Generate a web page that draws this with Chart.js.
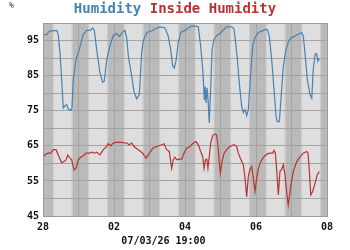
<!DOCTYPE html>
<html>
<head>
<meta charset="utf-8">
<script src="https://cdn.jsdelivr.net/npm/chart.js@4/dist/chart.umd.min.js"></script>
<style>
  html, body { margin: 0; padding: 0; background: #fff; }
</style>
</head>
<body>
<canvas id="chart" width="350" height="250"></canvas>
<script>
// hours since 28 Feb 00:00
const humidityHours = [0.2, 2.5, 4.3, 9.3, 10.3, 11.5, 12.6, 13.7, 14.9, 16.0, 17.1, 18.7, 19.6, 20.5, 22.3, 24.5,
  27.2, 29.5, 32.2, 33.6, 34.7, 36.3, 38.5, 40.4, 41.4, 43.1, 45.3, 47.5, 49.8, 51.6, 53.9, 55.4, 56.6, 57.7,
  60.0, 61.5, 63.3, 65.1, 66.7, 67.8, 70.1, 73.5, 75.7, 79.1, 82.5, 84.7, 86.3, 87.7, 88.8, 89.9, 91.5, 93.1,
  96.0, 98.2, 100.5, 103.4, 105.0, 106.6, 108.0, 109.1, 109.7, 110.2, 110.9, 111.6, 112.4, 113.4, 114.3, 115.6,
  117.4, 119.7, 121.9, 124.2, 127.6, 129.1, 130.5, 131.4, 132.7, 134.3, 135.4, 136.6, 137.7, 138.8, 140.4,
  141.8, 143.3, 145.6, 147.9, 150.1, 151.7, 153.0, 154.6, 156.2, 157.5, 158.4, 159.8, 161.0, 162.5, 164.3,
  165.8, 167.5, 169.7, 171.9, 173.8, 174.9, 176.0, 177.1, 178.7, 180.5, 181.7, 182.7, 183.9, 185.0, 185.7,
  186.4, 186.8];
const humidityValues = [96.7, 96.7, 97.7, 97.9, 96.7, 91.5, 83.9, 75.8, 76.4, 76.7, 75.5, 75.1, 75.8, 83.9, 89.6, 92.4,
  96.7, 97.9, 97.9, 98.6, 97.9, 92.4, 85.8, 83.1, 83.4, 89.6, 93.6, 96.4, 97.0, 96.2, 97.4, 97.9, 95.8, 90.5,
  84.8, 80.5, 78.4, 79.6, 91.5, 94.9, 97.3, 97.7, 98.3, 98.9, 98.6, 96.2, 92.4, 87.7, 87.2, 89.1, 94.5, 97.3,
  97.9, 98.6, 99.1, 99.1, 98.9, 93.4, 86.7, 78.1, 81.9, 77.2, 81.5, 78.1, 71.5, 81.9, 92.4, 95.3,
  96.4, 97.0, 98.0, 98.9, 98.9, 98.3, 93.4, 89.6, 82.9, 76.2, 74.5, 75.3, 73.6, 75.3, 85.8,
  93.4, 95.8, 97.3, 97.7, 98.1, 98.1, 96.2, 89.6, 81.0, 73.5, 71.9, 71.9, 79.1, 87.7, 92.4,
  94.5, 95.8, 96.1, 96.7, 97.0, 97.3, 96.2, 91.5, 83.9, 79.6, 78.6, 86.7, 91.0, 91.3, 89.1,
  89.8, 89.4];

const insideHours = [0.2, 2.0, 3.6, 5.2, 7.0, 8.8, 10.3, 12.6, 14.2, 15.5, 16.7, 18.3, 19.4, 21.0, 22.3, 23.9,
  25.5, 27.2, 29.1, 31.3, 32.9, 34.5, 36.3, 38.5, 40.8, 42.6, 44.1, 45.8, 47.1, 48.7, 52.1, 56.6, 58.3, 60.0,
  61.5, 64.4, 67.4, 69.6, 71.9, 74.2, 76.9, 80.3, 81.8, 83.6, 85.4, 87.0, 88.1, 89.2, 90.4, 92.1, 93.8, 95.3,
  97.1, 99.4, 101.6, 103.4, 105.0, 106.6, 108.0, 108.9, 109.8, 110.7, 111.5, 112.4, 113.4, 114.7, 116.3, 117.4,
  118.3, 119.2, 119.9, 120.8, 122.4, 124.2, 126.4, 129.1, 131.0, 132.0, 133.7, 135.4, 136.6, 137.7, 138.8,
  139.9, 141.1, 142.2, 143.3, 144.5, 145.6, 147.2, 149.4, 151.7, 153.5, 155.3, 156.2, 157.1, 158.0, 159.1,
  160.2, 161.3, 162.5, 163.6, 164.8, 165.8, 167.5, 169.2, 171.5, 173.8, 176.0, 178.3, 179.2, 180.0, 181.0,
  182.3, 183.9, 185.4, 186.8];
const insideValues = [61.8, 62.7, 62.9, 62.9, 63.9, 63.9, 62.4, 60.2, 60.5, 61.0, 62.4, 61.5, 61.0, 58.1, 58.6, 61.0,
  61.8, 62.1, 62.9, 62.9, 63.2, 62.9, 63.2, 62.4, 63.9, 64.6, 65.6, 65.0, 65.6, 66.0, 66.0, 65.8, 65.3, 65.8,
  64.8, 63.9, 62.9, 61.5, 62.9, 64.3, 64.8, 65.3, 65.6, 63.9, 63.4, 58.6, 61.0, 61.8, 61.0, 61.2, 61.2, 62.9,
  64.3, 64.8, 65.8, 66.2, 65.3, 63.4, 61.9, 58.6, 61.0, 61.2, 58.6, 61.9, 65.8, 67.9, 68.4, 68.1,
  64.8, 60.1, 57.2, 60.1, 62.9, 64.0, 64.8, 65.3, 64.8, 62.9, 61.2, 59.6, 55.8, 50.5, 56.2,
  58.3, 59.1, 55.8, 52.0, 55.8, 58.6, 60.5, 61.9, 62.7, 62.9, 62.9, 63.7, 62.9, 58.1, 51.0,
  57.7, 58.3, 59.6, 56.7, 51.5, 48.1, 53.4, 57.7, 60.5, 61.9, 62.9, 63.4, 62.9, 58.1, 51.0,
  52.0, 54.3, 56.7, 57.7];

const seriesNames = ['Humidity', 'Inside Humidity'];
const xTickLabels = ['28', '02', '04', '06', '08'];
const yTickLabels = ['45', '55', '65', '75', '85', '95'];
const unitLabel = '%';
const timeLabel = '07/03/26 19:00';

// day/night shading, hours of the day
const duskStart = 19.3, nightStart = 20.0, nightEnd = 6.7, dawnEnd = 7.2;

const blue = '#4682b4';
const red = '#b83232';
const mono = '"DejaVu Sans Mono", monospace';

const toPoints = (xs, ys) => xs.map((x, i) => ({ x: x, y: ys[i] }));

const backdropPlugin = {
    id: 'backdrop',
    beforeDraw(chart) {
        const { ctx, chartArea: a, scales: { x } } = chart;
        ctx.save();
        ctx.fillStyle = '#dedede';
        ctx.fillRect(a.left, a.top, a.right - a.left, a.bottom - a.top);
        const band = (h0, h1, color) => {
            const p0 = Math.max(x.getPixelForValue(h0), a.left);
            const p1 = Math.min(x.getPixelForValue(h1), a.right);
            if (p1 <= p0) return;
            ctx.fillStyle = color;
            ctx.fillRect(p0, a.top, p1 - p0, a.bottom - a.top);
        };
        for (let d = -1; d <= 8; d++) {
            const base = d * 24;
            band(base + duskStart, base + nightStart, '#cbcbcb');
            band(base + nightStart, base + 24 + nightEnd, '#bababa');
            band(base + 24 + nightEnd, base + 24 + dawnEnd, '#cbcbcb');
        }
        ctx.restore();
    },
    afterDraw(chart) {
        const { ctx, chartArea: a } = chart;
        ctx.save();
        ctx.strokeStyle = '#9a9a9a';
        ctx.lineWidth = 1;
        ctx.strokeRect(Math.round(a.left) + 0.5, Math.round(a.top) + 0.5,
            Math.round(a.right - a.left), Math.round(a.bottom - a.top));

        // two-colour heading
        ctx.font = 'bold 14px ' + mono;
        ctx.textBaseline = 'middle';
        const first = seriesNames[0] + ' ';
        const w1 = ctx.measureText(first).width;
        const w2 = ctx.measureText(seriesNames[1]).width;
        let tx = chart.width / 2 - (w1 + w2) / 2;
        ctx.fillStyle = blue;
        ctx.fillText(first, tx, 9);
        ctx.fillStyle = red;
        ctx.fillText(seriesNames[1], tx + w1, 9);

        ctx.font = '8px ' + mono;
        ctx.fillStyle = '#333';
        ctx.fillText(unitLabel, 9, 6);
        ctx.restore();
    }
};

new Chart(document.getElementById('chart'), {
    type: 'line',
    data: {
        datasets: [{
            label: seriesNames[0],
            data: toPoints(humidityHours, humidityValues),
            borderColor: blue,
            borderWidth: 1.2,
            pointRadius: 0,
            tension: 0
        }, {
            label: seriesNames[1],
            data: toPoints(insideHours, insideValues),
            borderColor: red,
            borderWidth: 1.2,
            pointRadius: 0,
            tension: 0
        }]
    },
    options: {
        responsive: false,
        animation: false,
        layout: { padding: { top: 23, right: 23, left: 0, bottom: 0 } },
        plugins: {
            legend: { display: false },
            tooltip: { enabled: false },
            title: {
                display: true,
                position: 'bottom',
                text: timeLabel,
                color: '#111',
                font: { family: mono, size: 10, weight: 'bold' },
                padding: { top: 3, bottom: 3 }
            }
        },
        scales: {
            x: {
                type: 'linear',
                min: 0,
                max: 192,
                afterFit: s => { s.height = 16; },
                grid: { color: '#a4a4a4', drawTicks: false },
                border: { display: false },
                ticks: {
                    stepSize: 24,
                    autoSkip: false,
                    maxRotation: 0,
                    padding: 5,
                    color: '#111',
                    font: { family: mono, size: 10, weight: 'bold' },
                    callback: (v) => (v % 48 === 0 ? xTickLabels[v / 48] : '')
                }
            },
            y: {
                min: 45,
                max: 100,
                afterFit: s => { s.width = 43; },
                grid: { color: '#a4a4a4', drawTicks: false },
                border: { display: false },
                ticks: {
                    stepSize: 5,
                    autoSkip: false,
                    padding: 4,
                    color: '#111',
                    font: { family: mono, size: 10, weight: 'bold' },
                    callback: (v) => yTickLabels.includes(String(v)) ? String(v) : ''
                }
            }
        }
    },
    plugins: [backdropPlugin]
});
</script>
</body>
</html>
